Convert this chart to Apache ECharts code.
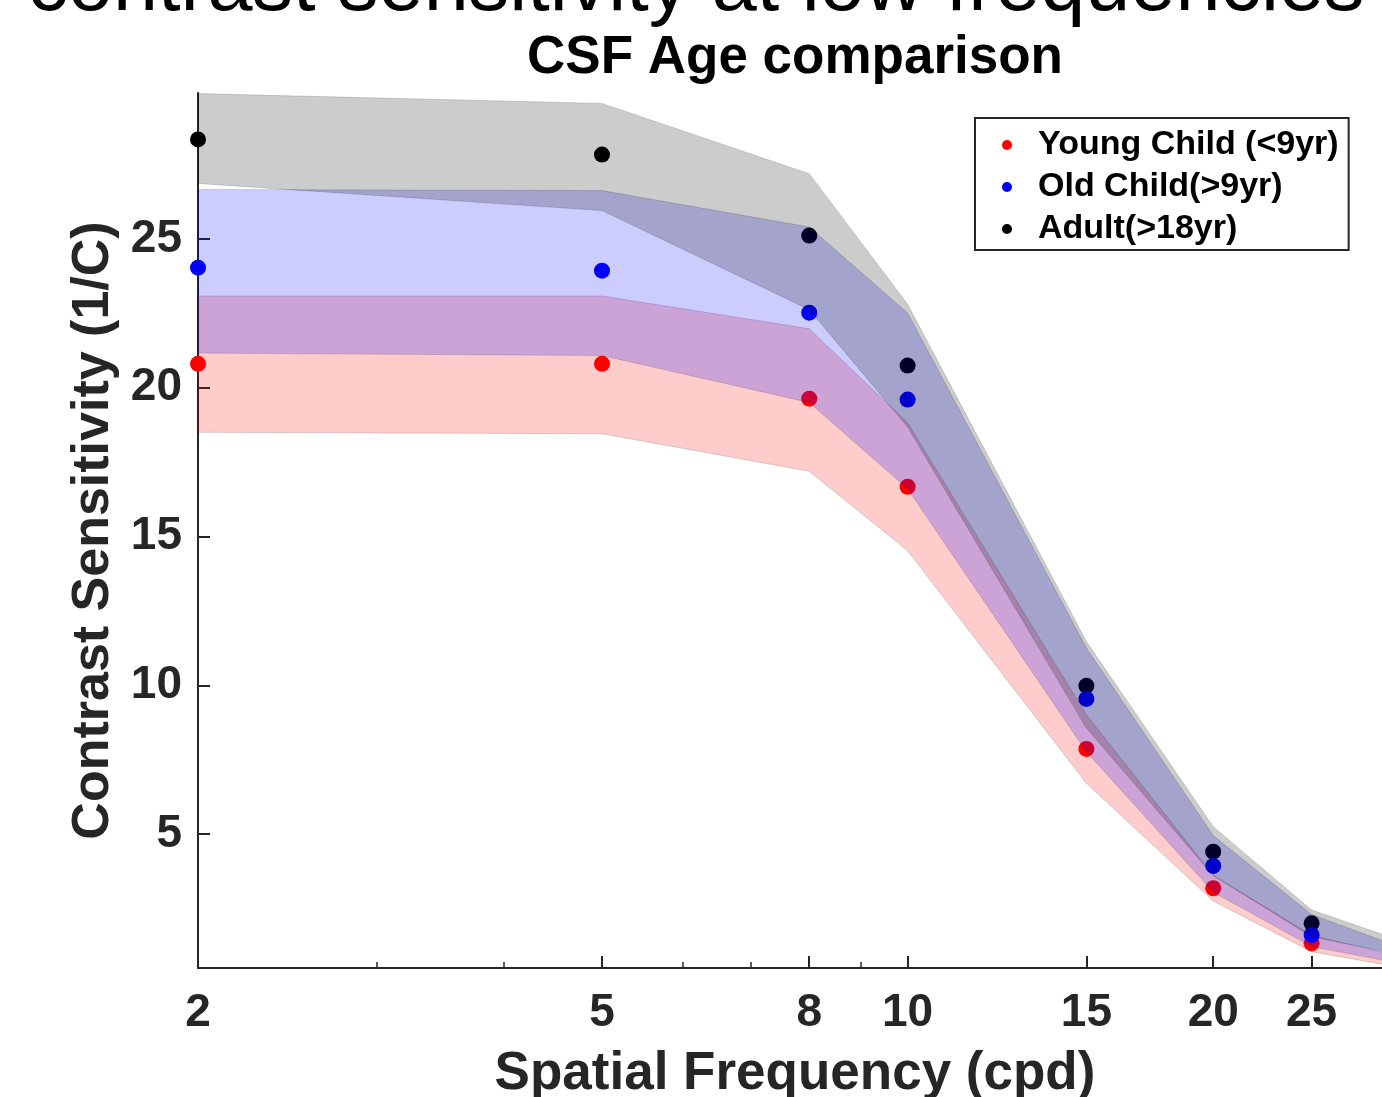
<!DOCTYPE html>
<html>
<head>
<meta charset="utf-8">
<script src="https://cdn.jsdelivr.net/npm/echarts@6/dist/echarts.min.js"></script>
<style>
html,body{margin:0;padding:0;background:#ffffff;}
#chart{width:1382px;height:1097px;}
</style>
</head>
<body>
<div id="chart"></div>
<script>
// ---- data ----
const freqs = [2, 5, 8, 10, 15, 20, 25];
const bandFreqs = [2, 5, 8, 10, 15, 20, 25, 30];

const seriesNames = ['Young Child (<9yr)', 'Old Child(>9yr)', 'Adult(>18yr)'];

const youngMean = [20.80, 20.80, 19.63, 16.67, 7.86, 3.18, 1.33];
const oldMean   = [24.03, 23.93, 22.52, 19.60, 9.54, 3.93, 1.61];
const adultMean = [28.34, 27.83, 25.11, 20.74, 9.98, 4.41, 2.00];

const youngLo = [18.50, 18.45, 17.19, 14.52, 6.71, 2.75, 1.05, 0.57];
const youngHi = [23.08, 23.08, 21.98, 18.82, 9.01, 3.62, 1.60, 0.95];
const oldLo   = [21.16, 21.08, 19.50, 16.60, 7.77, 3.05, 1.22, 0.70];
const oldHi   = [26.66, 26.62, 25.40, 22.51, 11.25, 4.95, 2.30, 1.30];
const adultLo = [26.86, 25.95, 22.62, 18.68, 8.56, 3.60, 1.55, 1.00];
const adultHi = [29.88, 29.55, 27.19, 22.80, 11.47, 5.25, 2.45, 1.52];

const xMajorTicks = [2, 5, 8, 10, 15, 20, 25];
const xMinorTicks = [3, 4, 6, 7, 9];
const yTicks = [5, 10, 15, 20, 25];

const chartTitle = 'CSF Age comparison';
const topHeading = 'contrast sensitivity at low frequencies';
const xName = 'Spatial Frequency (cpd)';
const yName = 'Contrast Sensitivity (1/C)';

// ---- chart ----
const FONT = 'Liberation Sans, Arial, Helvetica, sans-serif';
const AX = '#262626';
const EDGE = 'rgba(0,0,0,0.15)';

function bandSeries(key, lo, hi, fill, z) {
  return {
    type: 'custom', id: key + 'Band', silent: true, z: z,
    data: bandFreqs.map((f, i) => [f, lo[i], hi[i]]),
    encode: { x: 0, y: [1, 2] },
    renderItem: function (params, api) {
      if (params.dataIndex !== 0) return null;
      const n = params.dataInsideLength;
      const upper = [], lower = [];
      for (let j = 0; j < n; j++) {
        upper.push(api.coord([api.value(0, j), api.value(2, j)]));
        lower.push(api.coord([api.value(0, j), api.value(1, j)]));
      }
      return {
        type: 'polygon',
        shape: { points: upper.concat(lower.reverse()) },
        style: { fill: fill, stroke: EDGE, lineWidth: 1 }
      };
    }
  };
}

function dots(name, mean, color, z) {
  return {
    type: 'scatter', name: name,
    data: freqs.map((f, i) => [f, mean[i]]),
    symbol: 'circle', symbolSize: 16,
    itemStyle: { color: color, opacity: 1 },
    z: z, emphasis: { disabled: true }
  };
}

const chart = echarts.init(document.getElementById('chart'), null, { renderer: 'canvas' });

chart.setOption({
  animation: false,
  backgroundColor: '#ffffff',
  title: [
    {
      text: chartTitle, left: 795, top: 58, padding: 0,
      textAlign: 'center', textVerticalAlign: 'middle',
      textStyle: { fontFamily: FONT, fontWeight: 'bold', fontSize: 53, color: '#000000' }
    },
    {
      text: topHeading, left: 696, top: -12, padding: 0,
      textAlign: 'center', textVerticalAlign: 'middle',
      textStyle: { fontFamily: FONT, fontWeight: 'normal', fontSize: 81, color: '#000000' }
    }
  ],
  legend: {
    data: seriesNames,
    orient: 'vertical',
    left: 975, top: 118,
    padding: [10, 10, 4, 27],
    itemGap: 8,
    itemWidth: 10, itemHeight: 10,
    icon: 'circle',
    borderColor: AX, borderWidth: 2,
    backgroundColor: '#ffffff',
    selectedMode: false,
    z: 20,
    textStyle: { fontFamily: FONT, fontWeight: 'bold', fontSize: 34, color: '#000000', lineHeight: 34, padding: [0, 0, 0, 21] }
  },
  grid: { left: 198, top: 93, width: 1194, height: 875, containLabel: false, outerBoundsMode: 'none' },
  xAxis: [
    {
      type: 'log', logBase: 10, min: 2, max: 30,
      position: 'bottom',
      name: xName, nameLocation: 'middle', nameGap: 80,
      nameTextStyle: { fontFamily: FONT, fontWeight: 'bold', fontSize: 53, color: AX },
      axisLine: { show: true, lineStyle: { color: AX, width: 2 } },
      axisTick: { show: true, inside: true, length: 12, customValues: xMajorTicks, lineStyle: { color: AX, width: 2 } },
      axisLabel: { show: true, customValues: xMajorTicks, margin: 22, fontFamily: FONT, fontWeight: 'bold', fontSize: 46, color: AX },
      minorTick: { show: false },
      splitLine: { show: false }
    },
    {
      type: 'log', logBase: 10, min: 2, max: 30,
      position: 'bottom', gridIndex: 0,
      axisLine: { show: false },
      axisTick: { show: true, inside: true, length: 6, customValues: xMinorTicks, lineStyle: { color: AX, width: 1.5 } },
      axisLabel: { show: false },
      minorTick: { show: false },
      splitLine: { show: false }
    }
  ],
  yAxis: {
    type: 'value', min: 0.5, max: 29.9,
    name: yName, nameLocation: 'middle', nameGap: 77,
    nameTextStyle: { fontFamily: FONT, fontWeight: 'bold', fontSize: 52, color: AX },
    axisLine: { show: true, lineStyle: { color: AX, width: 2 } },
    axisTick: { show: true, inside: true, length: 12, customValues: yTicks, lineStyle: { color: AX, width: 2 } },
    axisLabel: { show: true, customValues: yTicks, margin: 16, fontFamily: FONT, fontWeight: 'bold', fontSize: 46, color: AX },
    splitLine: { show: false }
  },
  series: [
    bandSeries('young', youngLo, youngHi, 'rgba(255,0,0,0.2)', 2),
    dots(seriesNames[0], youngMean, '#ff0000', 3),
    dots(seriesNames[2], adultMean, '#000000', 4),
    bandSeries('old', oldLo, oldHi, 'rgba(0,0,255,0.2)', 5),
    dots(seriesNames[1], oldMean, '#0000ff', 6),
    bandSeries('adult', adultLo, adultHi, 'rgba(0,0,0,0.2)', 7)
  ]
});
</script>
</body>
</html>
